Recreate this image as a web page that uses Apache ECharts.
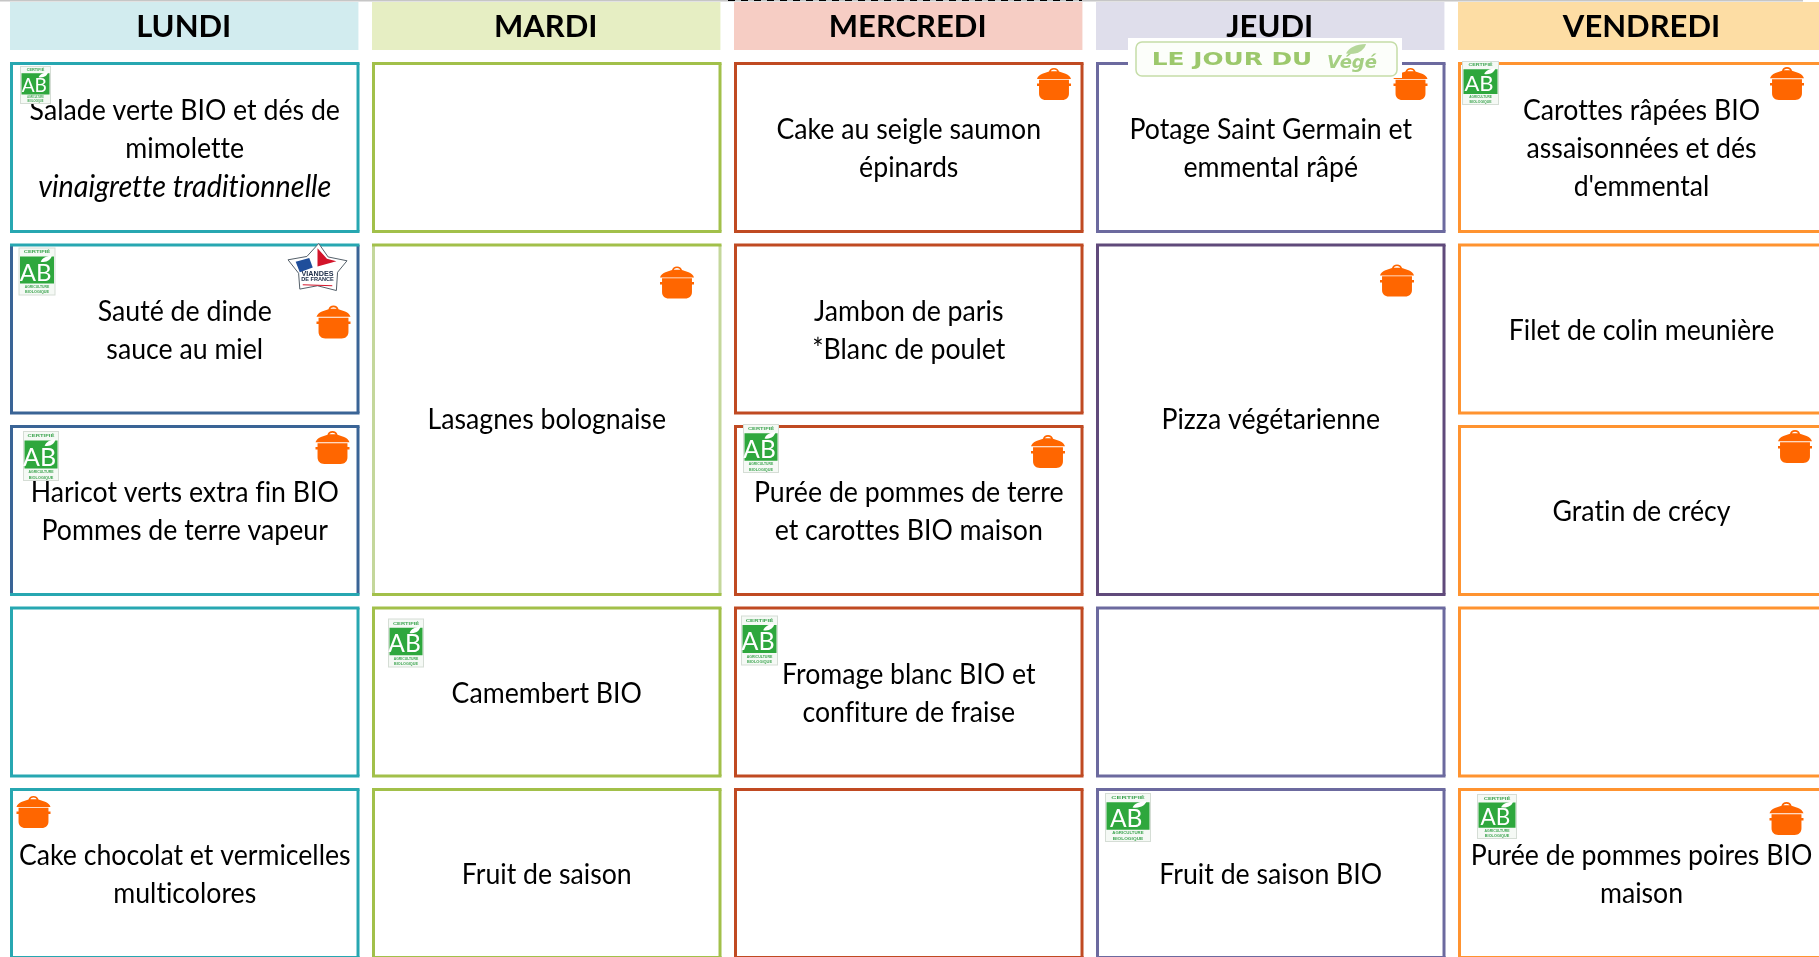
<!DOCTYPE html>
<html><head><meta charset="utf-8">
<style>html,body{margin:0;padding:0;background:#fff;overflow:hidden}#c{width:1819px;height:957px}</style>
<script src="https://cdn.jsdelivr.net/npm/echarts@6/dist/echarts.min.js"></script>
</head><body><div id="c"></div>
<script>
// ---- content ----
const days = ['LUNDI','MARDI','MERCREDI','JEUDI','VENDREDI'];
const dishesLundi = ['Salade verte BIO et dés de\nmimolette\n_vinaigrette traditionnelle','Sauté de dinde\nsauce au miel','Haricot verts extra fin BIO\nPommes de terre vapeur','','Cake chocolat et vermicelles\nmulticolores'];
const dishesMardi = ['','Lasagnes bolognaise',null,'Camembert BIO','Fruit de saison'];
const dishesMercredi = ['Cake au seigle saumon\népinards','Jambon de paris\n*Blanc de poulet','Purée de pommes de terre\net carottes BIO maison','Fromage blanc BIO et\nconfiture de fraise',''];
const dishesJeudi = ['Potage Saint Germain et\nemmental râpé','Pizza végétarienne',null,'','Fruit de saison BIO'];
const dishesVendredi = ['Carottes râpées BIO\nassaisonnées et dés\nd\'emmental','Filet de colin meunière','Gratin de crécy','','Purée de pommes poires BIO\nmaison'];
const menu = [dishesLundi,dishesMardi,dishesMercredi,dishesJeudi,dishesVendredi];

// ---- style ----
const headerFills = ['#D2ECEF','#E6EEC3','#F6CDC4','#DFDEEB','#FDDDA4'];
const TEAL='#27A7B1',BLUE='#3A6496',GREEN='#A2C04A',PALE='#C4D79B',RUST='#C04A22',IND='#6C6A9F',PUR='#604A7B',ORA='#FF9330';
// per day, per row: [top, sides, bottom]
const borders = [
  [[TEAL,TEAL,TEAL],[TEAL,BLUE,BLUE],[BLUE,BLUE,TEAL],[TEAL,TEAL,TEAL],[TEAL,TEAL,TEAL]],
  [[GREEN,GREEN,GREEN],[GREEN,PALE,GREEN],null,[GREEN,GREEN,GREEN],[GREEN,GREEN,GREEN]],
  [[RUST,RUST,RUST],[RUST,RUST,RUST],[RUST,RUST,RUST],[RUST,RUST,RUST],[RUST,RUST,RUST]],
  [[IND,IND,IND],[PUR,PUR,PUR],null,[IND,IND,IND],[IND,IND,IND]],
  [[ORA,ORA,ORA],[ORA,ORA,ORA],[ORA,ORA,ORA],[ORA,ORA,ORA],[ORA,ORA,ORA]]
];
// ornaments: kind, day, row, left, top, width, height (px from the cell's top-left corner)
const ornaments = [
 ['ab',0,0,10,4,31,38],['ab',0,1,8.5,4,37,48],['ab',0,2,13,6,36,50],['ab',1,3,16,12,36,49],['ab',2,2,9,-1,36,49],['ab',2,3,7,9,37,50],
 ['ab',3,4,9,5,46,49],['ab',4,0,4,-1,37,44],['ab',4,4,19,6,40,45],
 ['pot',0,1,306.5,62,34,33],['pot',0,2,305.5,6,34,33],['pot',0,4,6.5,8,34,32],['pot',1,1,288,23,34,32],['pot',2,0,303,6,34,32],['pot',2,2,297,10,34,33],
 ['pot',3,0,297.5,6,34,32],['pot',3,1,284,21,34,32],['pot',4,0,312,5,34,33],['pot',4,2,320,5,34,33],['pot',4,4,311.5,14,34,33],
 ['vf',0,1,278,0,59,48]
];

const PITCH_X=362, PITCH_Y=181.5, CELL_W=0.9655, CELL_H=0.942, LAST_W=1.014, HEAD_W=0.9625;
const FONT='Lato';

// Calibri-like rendering: no typographic ligatures
const _gc=HTMLCanvasElement.prototype.getContext;
HTMLCanvasElement.prototype.getContext=function(t,o){const c=_gc.call(this,t,o);if(t==='2d'&&c){try{c.textRendering='optimizeSpeed';}catch(e){}}return c;};

const POT_LID='M50 0C43 0 38 5 37 11L20 18C12 22 8 27 6 34L94 34C92 27 88 22 80 18L63 11C62 5 57 0 50 0ZM50 5C54 5 57 8 58 10L42 10C43 8 46 5 50 5Z';
const POT_BODY='M6 38H94V49H100V57H94V80C94 92 86 100 74 100H26C14 100 6 92 6 80V57H0V49H6Z';
const LEAF='M0 10C2 4 8 0 16 0C15 6 9 12 0 10Z';

function abLogo(x,y,w,h){
  const g=(t,u,v,s)=>({type:'text',x:x+w*u,y:y+h*v,scaleX:s||1,style:{text:t,fontFamily:'Liberation Sans',fontSize:Math.max(3,h*0.085),fontWeight:'bold',fill:'#3FA652',align:'center',verticalAlign:'middle'}});
  return [
   {type:'rect',shape:{x,y,width:w,height:h},style:{fill:'#D5DDD5'}},
   {type:'rect',shape:{x:x+1,y:y+1,width:w-2,height:h-2},style:{fill:'#F5F9F5'}},
   {type:'rect',shape:{x:x+1.5,y:y+h*0.19,width:w-3,height:h*0.56},style:{fill:'#2EA73D'}},
   g('CERTIFIÉ',0.5,0.10,w/26),
   g('AGRICULTURE',0.5,0.82,w/44),
   g('BIOLOGIQUE',0.5,0.93,w/40),
   {type:'text',x:x+w*0.46,y:y+h*0.53,style:{text:'AB',fontFamily:FONT,fontSize:h*0.5,fill:'#fff',align:'center',verticalAlign:'middle'}},
   {type:'path',shape:{pathData:LEAF,layout:'cover',x:x+w*0.60,y:y+h*0.17,width:w*0.3,height:h*0.13},style:{fill:'#fff'}}
  ];
}
function potIcon(x,y,w,h){
  return [
   {type:'path',shape:{pathData:POT_LID,layout:'cover',x,y,width:w,height:h*0.34},style:{fill:'#FF6600'}},
   {type:'path',shape:{pathData:POT_BODY,layout:'cover',x,y:y+h*0.37,width:w,height:h*0.63},style:{fill:'#FF6600'}}
  ];
}
function vfBadge(x,y,w,h){
  const P=(a,b)=>[x+a*w,y+b*h];
  return [
   {type:'polygon',shape:{points:[P(.52,0),P(.68,.28),P(1,.36),P(.84,.6),P(.82,.98),P(.5,.88),P(.2,.95),P(.18,.62),P(0,.34),P(.32,.27)]},style:{fill:'#fff',stroke:'#55606A',lineWidth:1}},
   {type:'polygon',shape:{points:[P(.13,.38),P(.36,.3),P(.42,.5),P(.2,.6)]},style:{fill:'#1F4E9B'}},
   {type:'polygon',shape:{points:[P(.5,.1),P(.66,.32),P(.82,.37),P(.5,.48)]},style:{fill:'#D3142A'}},
   {type:'text',x:x+w*.5,y:y+h*.63,style:{text:'VIANDES',fontFamily:'Liberation Sans',fontWeight:'bold',fontSize:7.2,fill:'#20304A',align:'center',verticalAlign:'middle'}},
   {type:'text',x:x+w*.5,y:y+h*.74,style:{text:'DE FRANCE',fontFamily:'Liberation Sans',fontWeight:'bold',fontSize:5.6,fill:'#20304A',align:'center',verticalAlign:'middle'}},
   {type:'line',shape:{x1:x+w*.25,y1:y+h*.86,x2:x+w*.75,y2:y+h*.88},style:{stroke:'#D3142A',lineWidth:1}}
  ];
}

// cell list built from the menu
const cells=[];
menu.forEach((col,d)=>col.forEach((txt,r)=>{
  if(txt===null) return;
  const span=(col[r+1]===null)?2:1;
  cells.push({d,r,span,txt});
}));

function cellBox(api,d,r,span){
  const w=d===4?LAST_W:CELL_W;
  const a=api.coord([d,r]);
  const b=api.coord([d+w,r+span-1+CELL_H]);
  return {x0:a[0],y0:a[1],x1:b[0],y1:b[1]};
}
const richFor=t=>t.split('\n').map(l=>l[0]==='_'?'{i|'+l.slice(1)+'}':'{n|'+l+'}').join('\n');

const option={
 animation:false,
 backgroundColor:'#fff',
 grid:{left:10,top:62,right:0,bottom:0,show:false},
 xAxis:{type:'value',min:0,max:1809/PITCH_X,show:false},
 yAxis:{type:'value',min:0,max:895/PITCH_Y,inverse:true,show:false},
 series:[
 {type:'custom',name:'header',coordinateSystem:'cartesian2d',clip:false,silent:true,data:days.map((_,i)=>[i]),
  renderItem(p,api){
    const d=p.dataIndex;
    const a=api.coord([d,-60/PITCH_Y]), b=api.coord([d+(d===4?LAST_W:HEAD_W),-12/PITCH_Y]);
    return {type:'group',children:[
      {type:'rect',shape:{x:a[0],y:a[1],width:b[0]-a[0],height:b[1]-a[1]},style:{fill:headerFills[d]}},
      {type:'text',x:(a[0]+b[0])/2-(d===4?0:0.5),y:26.5,scaleX:1,style:{text:days[d],fontFamily:FONT,fontWeight:'bold',fontSize:31,fill:'#000',align:'center',verticalAlign:'middle'}}
    ]};
  }},
 {type:'custom',name:'cells',coordinateSystem:'cartesian2d',clip:false,silent:true,data:cells.map(c=>[c.d,c.r]),
  renderItem(p,api){
    const c=cells[p.dataIndex],B=cellBox(api,c.d,c.r,c.span),bd=borders[c.d][c.r];
    const h=1.5,x0=B.x0+h,x1=B.x1-h,y0=B.y0+h,y1=B.y1-h;
    const ln=(a,b,e,f,col)=>({type:'line',shape:{x1:a,y1:b,x2:e,y2:f},style:{stroke:col,lineWidth:3}});
    const kids=[
      ln(x0,y0,x0,y1,bd[1]),ln(x1,y0,x1,y1,bd[1]),
      ln(B.x0,y0,B.x1,y0,bd[0]),ln(B.x0,y1,B.x1,y1,bd[2])
    ];
    if(c.txt) kids.push({type:'text',x:(B.x0+B.x1)/2,y:(B.y0+B.y1)/2+(c.span===2?-0.5:1.5),scaleX:0.92,style:{
      text:richFor(c.txt),align:'center',verticalAlign:'middle',
      rich:{n:{fontFamily:FONT,fontSize:29,lineHeight:38,fill:'#000'},i:{fontFamily:FONT,fontStyle:'italic',fontSize:31.3,lineHeight:38,fill:'#000'}}}});
    return {type:'group',children:kids};
  }},
 {type:'custom',name:'ornaments',coordinateSystem:'cartesian2d',clip:false,silent:true,data:ornaments.map(o=>[o[1],o[2]]),
  renderItem(p,api){
    const [k,d,r,dx,dy,w,h]=ornaments[p.dataIndex];
    const a=api.coord([d,r]);
    const x=a[0]+dx,y=a[1]+dy;
    return {type:'group',children:k==='ab'?abLogo(x,y,w,h):k==='pot'?potIcon(x,y,w,h):vfBadge(x,y,w,h)};
  }},
 {type:'custom',name:'badge',coordinateSystem:'cartesian2d',clip:false,silent:true,data:[[3,0]],
  renderItem(p,api){
    const a=api.coord([3,0]);
    const x=a[0]+32,y=a[1]-24;
    return {type:'group',children:[
      {type:'rect',shape:{x,y,width:274,height:40},style:{fill:'#fff'}},
      {type:'rect',shape:{x:x+8,y:y+4,width:261,height:34,r:6},style:{fill:'#FCFEFA',stroke:'#C5DDA8',lineWidth:1.5}},
      {type:'text',x:x+104,y:y+23,scaleX:1.46,style:{text:'LE JOUR DU',fontFamily:'DejaVu Sans',fontWeight:'bold',fontSize:17,fill:'#9CC86C',align:'center',verticalAlign:'middle'}},
      {type:'text',x:x+224,y:y+25,style:{text:'Végé',fontFamily:'DejaVu Sans',fontStyle:'italic',fontWeight:'bold',fontSize:18,fill:'#A5CF82',align:'center',verticalAlign:'middle'}},
      {type:'path',shape:{pathData:LEAF,layout:'cover',x:x+218,y:y+6,width:20,height:10},style:{fill:'#B5D79A'}}
    ]};
  }},
 {type:'custom',name:'top',coordinateSystem:'cartesian2d',clip:false,silent:true,data:[[0,0]],
  renderItem(p,api){
    return {type:'group',children:[
      {type:'line',shape:{x1:0,y1:0.75,x2:1803,y2:0.75},style:{stroke:'#C6C6C6',lineWidth:1.5}},
      {type:'line',shape:{x1:728,y1:0.5,x2:1082,y2:0.5},style:{stroke:'#000',lineWidth:1,lineDash:[7,6]}}
    ]};
  }}
 ]
};
const chart=echarts.init(document.getElementById('c'),null,{renderer:'canvas'});
chart.setOption(option);
</script></body></html>
